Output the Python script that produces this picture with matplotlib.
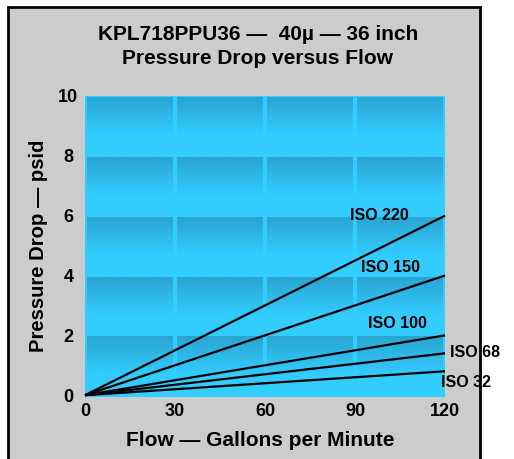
import numpy as np
import matplotlib.pyplot as plt
from matplotlib.patches import Rectangle
from matplotlib.colors import LinearSegmentedColormap

plt.rcParams['font.family'] = ['Liberation Sans', 'DejaVu Sans']
plt.rcParams['font.weight'] = 'bold'

# data
flow = [0, 120]
series = ['ISO 220', 'ISO 150', 'ISO 100', 'ISO 68', 'ISO 32']
drop_at_120 = [6.0, 4.0, 2.0, 1.4, 0.8]
label_x = [98, 102, 104, 130, 127]
label_y = [6.0, 4.28, 2.4, 1.42, 0.42]
xticks = [0, 30, 60, 90, 120]
yticks = [0, 2, 4, 6, 8, 10]

W, H = 514, 459
fig = plt.figure(figsize=(W / 100, H / 100), dpi=100)
fig.patch.set_facecolor('white')

# gray panel with black border
fig.patches.append(Rectangle((8 / W, -0.05), (480 - 8) / W, 1.05 - 7 / H,
                             transform=fig.transFigure, facecolor='#cccccc',
                             edgecolor='black', linewidth=2, zorder=-1))

ax = fig.add_axes([85 / W, 1 - 397 / H, (445 - 85) / W, (397 - 96) / H])
ax.set_facecolor('#33ccff')
for s in ax.spines.values():
    s.set_visible(False)

# gradient cells: dark at the top, bright toward the bottom
cmap = LinearSegmentedColormap.from_list('cell', [(0, '#2aa5d2'), (0.68, '#33ccff'), (1, '#33ccff')])
grad = np.linspace(0, 1, 100).reshape(-1, 1)
dx, dy = 0.7, 0.06
for x0 in xticks[:-1]:
    for y0 in yticks[:-1]:
        ax.imshow(grad, cmap=cmap, aspect='auto', interpolation='bilinear', origin='upper',
                  extent=(x0 + dx, x0 + 30 - dx, y0 + dy, y0 + 2 - dy), zorder=0)
ax.set_xlim(0, 120)
ax.set_ylim(-0.06, 10)

for name, v, lx, ly in zip(series, drop_at_120, label_x, label_y):
    ax.plot(flow, [0, v], color='black', lw=1.6, zorder=3, clip_on=False, solid_capstyle='butt')
    ax.text(lx, ly, name, fontsize=11.5, fontweight='bold', ha='center', va='center', zorder=4,
            clip_on=False)

ax.set_xticks(xticks)
ax.set_xticklabels([str(t) for t in xticks], fontsize=13, fontweight='bold')
ax.set_yticks(yticks)
ax.set_yticklabels([str(t) for t in yticks], fontsize=13, fontweight='bold', ha='center')
ax.tick_params(axis='both', length=0)
ax.tick_params(axis='x', pad=4)
ax.tick_params(axis='y', pad=12)

fig.text(258 / W, 1 - 34 / H, 'KPL718PPU36 —  40µ — 36 inch', ha='center', va='center',
         fontsize=15, fontweight='bold')
fig.text(258 / W, 1 - 59 / H, 'Pressure Drop versus Flow', ha='center', va='center',
         fontsize=15, fontweight='bold')
fig.text(260 / W, 1 - 440 / H, 'Flow — Gallons per Minute', ha='center', va='center',
         fontsize=15, fontweight='bold')
fig.text(39 / W, 1 - 246 / H, 'Pressure Drop — psid', ha='center', va='center',
         rotation=90, fontsize=14.6, fontweight='bold')

fig.savefig('out.png', dpi=100)
